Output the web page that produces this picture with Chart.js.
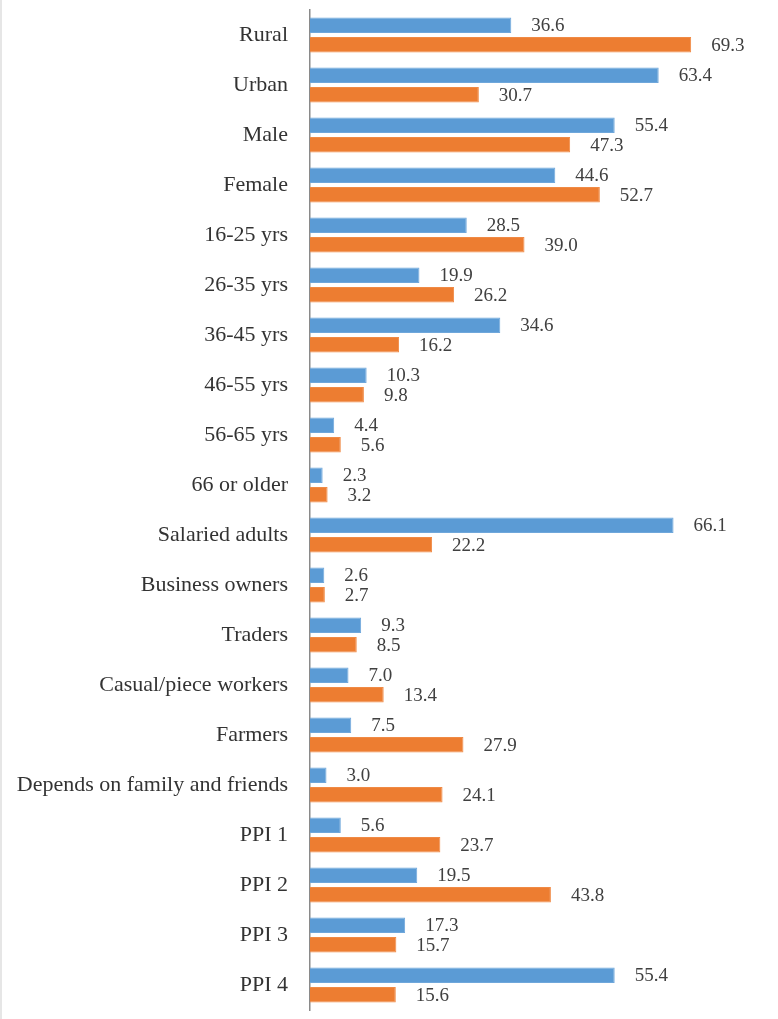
<!DOCTYPE html>
<html>
<head>
<meta charset="utf-8">
<script src="https://cdn.jsdelivr.net/npm/chart.js@4/dist/chart.umd.min.js"></script>
<style>
    body { margin: 0; background: #fff; }
    #wrap { position: relative; width: 778px; height: 1019px; }
    #edge { position: absolute; left: 0; top: 0; width: 2px; height: 1019px; background: #e6e6e6; }
</style>
</head>
<body>
<div id="wrap">
    <div id="edge"></div>
    <canvas id="chart1"></canvas>
</div>
<script>
// categories, top to bottom
const groups = ['Rural', 'Urban', 'Male', 'Female', '16-25 yrs', '26-35 yrs', '36-45 yrs', '46-55 yrs', '56-65 yrs', '66 or older',
    'Salaried adults', 'Business owners', 'Traders', 'Casual/piece workers', 'Farmers', 'Depends on family and friends',
    'PPI 1', 'PPI 2', 'PPI 3', 'PPI 4'];

const blueValues = [36.6, 63.4, 55.4, 44.6, 28.5, 19.9, 34.6, 10.3, 4.4, 2.3, 66.1, 2.6, 9.3, 7.0, 7.5, 3.0, 5.6, 19.5, 17.3, 55.4];
const orangeValues = [69.3, 30.7, 47.3, 52.7, 39.0, 26.2, 16.2, 9.8, 5.6, 3.2, 22.2, 2.7, 8.5, 13.4, 27.9, 24.1, 23.7, 43.8, 15.7, 15.6];

const serif = "'Liberation Serif', 'DejaVu Serif', serif";

// writes the value just past the end of each bar
const valueLabels = {
    id: 'valueLabels',
    afterDatasetsDraw(chart) {
        const ctx = chart.ctx;
        ctx.save();
        ctx.font = '19px ' + serif;
        ctx.fillStyle = '#404040';
        ctx.textAlign = 'left';
        ctx.textBaseline = 'middle';
        chart.data.datasets.forEach((ds, i) => {
            chart.getDatasetMeta(i).data.forEach((bar, j) => {
                ctx.fillText(ds.data[j].toFixed(1), bar.x + 20, bar.y + 1);
            });
        });
        ctx.restore();
    }
};

const ctx = document.querySelector('#chart1');

new Chart(ctx, {
    type: 'bar',
    data: {
        labels: groups,
        datasets: [{
            label: 'Series 1',
            data: blueValues,
            backgroundColor: '#5b9bd5',
            borderColor: '#6fa7db',
            borderWidth: 1,
            categoryPercentage: 0.78,
            barPercentage: 0.8
        }, {
            label: 'Series 2',
            data: orangeValues,
            backgroundColor: '#ed7d31',
            borderColor: '#f08a45',
            borderWidth: 1,
            categoryPercentage: 0.78,
            barPercentage: 0.8
        }]
    },
    options: {
        indexAxis: 'y',
        responsive: true,
        maintainAspectRatio: false,
        animation: false,
        layout: {
            padding: { top: 10, bottom: 9, right: 28, left: 0 }
        },
        plugins: {
            legend: { display: false },
            tooltip: { enabled: false }
        },
        scales: {
            x: {
                display: false,
                min: 0,
                max: 80
            },
            y: {
                afterFit(scale) {
                    scale.width = 310;
                    // labels sit mid-row, no extra room needed above/below
                    scale.paddingTop = 0;
                    scale.paddingBottom = 0;
                },
                grid: {
                    display: false,
                    drawTicks: false
                },
                border: {
                    display: true,
                    color: '#8a8a8a',
                    width: 1.5
                },
                ticks: {
                    color: '#333333',
                    padding: 22,
                    font: { family: serif, size: 22 }
                }
            }
        }
    },
    plugins: [valueLabels]
});
</script>
</body>
</html>
